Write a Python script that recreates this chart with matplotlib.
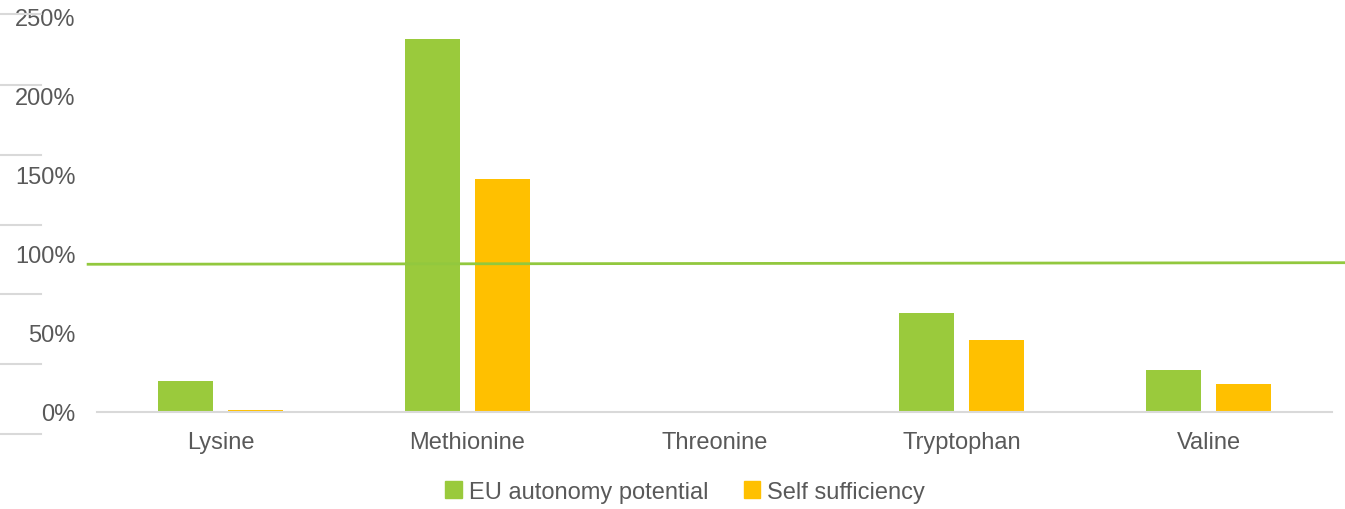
import matplotlib
matplotlib.use("Agg")
import matplotlib.pyplot as plt
from matplotlib.lines import Line2D
from matplotlib.patches import Patch
from matplotlib.ticker import PercentFormatter
import numpy as np

plt.rcParams['font.family'] = ['Liberation Sans', 'DejaVu Sans']

categories = ["Lysine", "Methionine", "Threonine", "Tryptophan", "Valine"]
eu_autonomy = [0.196, 2.36, 0.0, 0.627, 0.266]
self_suff = [0.013, 1.475, 0.0, 0.456, 0.175]
series_names = ["EU autonomy potential", "Self sufficiency"]
ref_line = [0.935, 0.945]
yticks = [0, 0.5, 1.0, 1.5, 2.0, 2.5]

GREEN = "#9ACA3C"
YELLOW = "#FFC000"
TEXT = "#595959"
GRID = "#D9D9D9"

W, H = 1345, 510
fig = plt.figure(figsize=(W / 100, H / 100), dpi=100)
ax = fig.add_axes([97 / W, 1 - 413 / H, (1332 - 97) / W, (413 - 18) / H])

x = np.arange(len(categories))
bw = 0.223
ax.bar(x - 0.1425, eu_autonomy, bw, color=GREEN, zorder=2)
ax.bar(x + 0.1425, self_suff, bw, color=YELLOW, zorder=2)

ax.set_xlim(-0.5, len(categories) - 0.5)
ax.set_ylim(0, 2.5)
ax.set_yticks(yticks)
ax.yaxis.set_major_formatter(PercentFormatter(1.0, decimals=0))
ax.set_xticks(x)
ax.set_xticklabels(categories)
ax.tick_params(axis='both', length=0, labelsize=17, labelcolor=TEXT)
ax.tick_params(axis='x', pad=14)
ax.tick_params(axis='y', pad=15.5)

for s in ["top", "right", "left"]:
    ax.spines[s].set_visible(False)
ax.spines["bottom"].set_color(GRID)
ax.spines["bottom"].set_linewidth(1.5)

# reference line (drawn slightly beyond the plot area)
ax.plot([-0.536, 4.553], ref_line, color="#92C83E", lw=2, clip_on=False, zorder=3)

# decorative left tick marks
for yp in [15, 85.5, 155.7, 225.7, 295, 365, 434.5]:
    fig.add_artist(Line2D([0, 41 / W], [1 - yp / H, 1 - yp / H], color=GRID, lw=1.5,
                          transform=fig.transFigure))

handles = [Patch(color=GREEN), Patch(color=YELLOW)]
fig.legend(handles, series_names, loc="center", bbox_to_anchor=(685 / W, 1 - 493 / H),
           ncol=2, frameon=False, fontsize=17, labelcolor=TEXT,
           handlelength=0.7, handleheight=0.7, handletextpad=0.3, columnspacing=1.5)

fig.savefig("out.png", dpi=100)
